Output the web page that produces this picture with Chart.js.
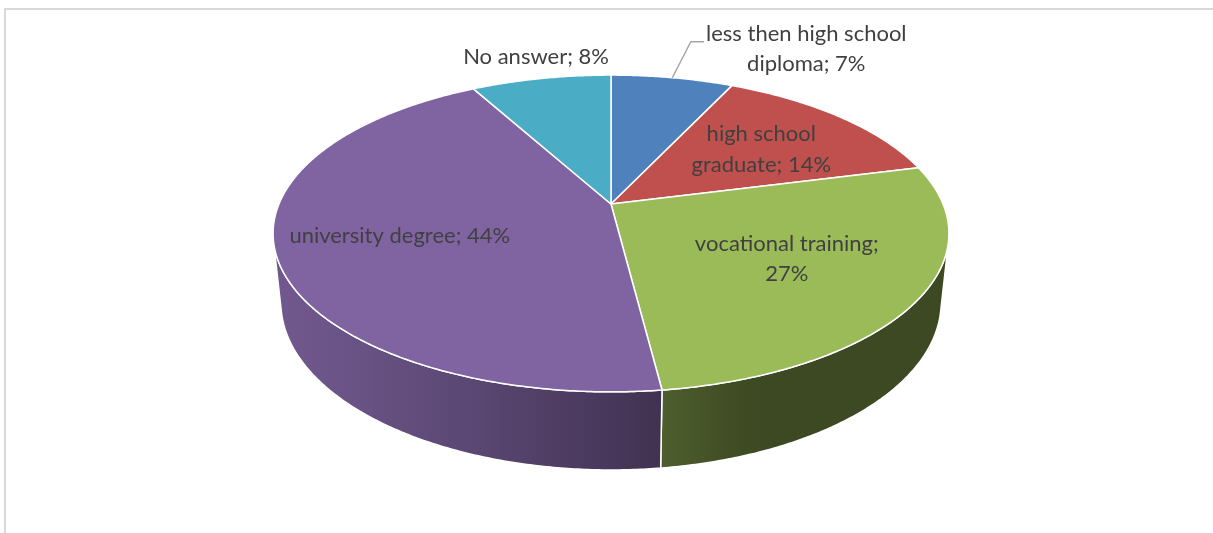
<!DOCTYPE html>
<html>
<head>
<meta charset="utf-8">
<script src="https://cdn.jsdelivr.net/npm/chart.js@4.4.1/dist/chart.umd.min.js"></script>
<style>
  html, body { margin: 0; padding: 0; background: #ffffff; }
  #wrap { position: relative; width: 1213px; height: 533px; overflow: hidden; }
  canvas { display: block; }
</style>
</head>
<body>
<div id="wrap"><canvas id="chart" width="1213" height="533"></canvas></div>
<script>
// Highest level of education reached
const categories = [
  'less then high school diploma',
  'high school graduate',
  'vocational training',
  'university degree',
  'No answer'
];
const shares = [7, 14, 27, 44, 8];
const sliceColors = ['#4F81BD', '#C0504D', '#9BBB59', '#8064A2', '#4BACC6'];

// Perspective of the tilted disc (unit radius), in pixels and ratios
const VIEW = {
  K: 332,        // pixels per unit radius at the disc centre
  p: 0.186,      // depth change per unit towards the back
  sinT: 0.4605,  // sine of the viewing elevation
  cosT: 0.8876,  // cosine of the viewing elevation
  h: 0.2364,     // thickness of the disc
  hD: 0.02282    // depth change caused by the thickness
};

// Where each data label sits, relative to its slice
const labelLayout = [
  { place: 'rim',   dx: 134, dy: -29, wrap: 215, leader: true },
  { place: 'inner', dx: 7,   dy: 0,   wrap: 160 },
  { place: 'inner', dx: 0,   dy: 0,   wrap: 205 },
  { place: 'inner', dx: -15, dy: 3,   wrap: 300 },
  { place: 'rim',   dx: -5,  dy: -22, wrap: 300 }
];
const LABEL_FONT = '22px Lato';
const LINE_H = 30.5;

function project(cx, cy, theta, r, bottom) {
  const X = r * Math.sin(theta);
  const Y = r * Math.cos(theta);
  const z = bottom ? -VIEW.h : 0;
  const den = 1 + VIEW.p * Y + (bottom ? VIEW.hD : 0);
  const yc = Y * VIEW.sinT + z * VIEW.cosT;
  return { x: cx + VIEW.K * X / den, y: cy - VIEW.K * yc / den };
}

function hexToRgb(hex) {
  const n = parseInt(hex.slice(1), 16);
  return [(n >> 16) & 255, (n >> 8) & 255, n & 255];
}
function shade(hex, f) {
  const c = hexToRgb(hex).map(v => Math.round(Math.max(0, Math.min(255, v * f))));
  return `rgb(${c[0]},${c[1]},${c[2]})`;
}
// light comes from the front left
function sideLight(theta) {
  const nx = Math.sin(theta), ny = Math.cos(theta);
  const d = Math.max(0, nx * -0.8 + ny * -0.3);
  return 0.39 + 0.565 * d;
}

function wrapText(ctx, text, maxW) {
  const words = text.split(' ');
  const lines = [];
  let cur = '';
  for (const w of words) {
    const t = cur ? cur + ' ' + w : w;
    if (cur && ctx.measureText(t).width > maxW) { lines.push(cur); cur = w; }
    else cur = t;
  }
  if (cur) lines.push(cur);
  return lines;
}

const pie3d = {
  id: 'pie3d',
  beforeDraw(chart) {
    const ctx = chart.ctx;
    ctx.save();
    ctx.fillStyle = '#ffffff';
    ctx.fillRect(0, 0, chart.width, chart.height);
    ctx.fillStyle = '#d9d9d9';
    ctx.fillRect(4, 8, chart.width - 4, 2);
    ctx.fillRect(4, 8, 2, chart.height - 8);
    ctx.restore();
  },
  beforeDatasetsDraw(chart) {
    const ctx = chart.ctx;
    const meta = chart.getDatasetMeta(0);
    const arcs = meta.data;
    const cx = arcs[0].x, cy = arcs[0].y;
    const STEP = Math.PI / 360;
    const vis = Math.acos(-VIEW.p / (VIEW.cosT * VIEW.cosT));
    const visA = vis, visB = 2 * Math.PI - vis;

    ctx.save();
    ctx.lineJoin = 'round';

    // outer walls of the slices facing the viewer
    arcs.forEach((arc, i) => {
      const t0 = arc.startAngle + Math.PI / 2;
      const t1 = arc.endAngle + Math.PI / 2;
      const a = Math.max(t0, visA), b = Math.min(t1, visB);
      if (b <= a) return;
      const top = [], bot = [];
      for (let t = a; t < b; t += STEP) {
        top.push(project(cx, cy, t, 1, false));
        bot.push(project(cx, cy, t, 1, true));
      }
      top.push(project(cx, cy, b, 1, false));
      bot.push(project(cx, cy, b, 1, true));

      const xs = top.concat(bot).map(pt => pt.x);
      const xL = Math.min(...xs), xR = Math.max(...xs);
      const grad = ctx.createLinearGradient(xL, 0, xR, 0);
      const n = 16;
      for (let k = 0; k <= n; k++) {
        const t = a + (b - a) * k / n;
        const pt = project(cx, cy, t, 1, false);
        const pb = project(cx, cy, t, 1, true);
        const px = (pt.x + pb.x) / 2;
        const pos = Math.max(0, Math.min(1, (px - xL) / (xR - xL || 1)));
        grad.addColorStop(pos, shade(sliceColors[i], sideLight(t)));
      }
      ctx.beginPath();
      ctx.moveTo(top[0].x, top[0].y);
      for (const pt of top) ctx.lineTo(pt.x, pt.y);
      for (let k = bot.length - 1; k >= 0; k--) ctx.lineTo(bot[k].x, bot[k].y);
      ctx.closePath();
      ctx.fillStyle = grad;
      ctx.fill();
      ctx.strokeStyle = '#ffffff';
      ctx.lineWidth = 1.5;
      ctx.stroke();
    });

    // top faces
    arcs.forEach((arc, i) => {
      const t0 = arc.startAngle + Math.PI / 2;
      const t1 = arc.endAngle + Math.PI / 2;
      ctx.beginPath();
      ctx.moveTo(cx, cy);
      for (let t = t0; t < t1; t += STEP) {
        const pt = project(cx, cy, t, 1, false);
        ctx.lineTo(pt.x, pt.y);
      }
      const pe = project(cx, cy, t1, 1, false);
      ctx.lineTo(pe.x, pe.y);
      ctx.closePath();
      ctx.fillStyle = sliceColors[i];
      ctx.fill();
      ctx.strokeStyle = '#ffffff';
      ctx.lineWidth = 1.5;
      ctx.stroke();
    });

    // data labels
    ctx.font = LABEL_FONT;
    ctx.fillStyle = '#404040';
    ctx.textAlign = 'center';
    ctx.textBaseline = 'middle';
    arcs.forEach((arc, i) => {
      const lay = labelLayout[i];
      const mid = (arc.startAngle + arc.endAngle) / 2 + Math.PI / 2;
      const anchor = project(cx, cy, mid, lay.place === 'rim' ? 1 : 0.6, false);
      const lx = anchor.x + lay.dx, ly = anchor.y + lay.dy;
      const lines = wrapText(ctx, `${categories[i]}; ${shares[i]}%`, lay.wrap);
      const y0 = ly - (lines.length - 1) * LINE_H / 2;
      lines.forEach((ln, k) => ctx.fillText(ln, lx, y0 + k * LINE_H));
      if (lay.leader) {
        const w = Math.max(...lines.map(l => ctx.measureText(l).width));
        const left = lx - w / 2 - 2;
        ctx.beginPath();
        ctx.moveTo(anchor.x, anchor.y);
        ctx.lineTo(anchor.x + 18.5, ly - 7);
        ctx.lineTo(left, ly - 7);
        ctx.strokeStyle = '#a6a6a6';
        ctx.lineWidth = 1.5;
        ctx.stroke();
      }
    });

    ctx.restore();
    return false;
  }
};

new Chart(document.getElementById('chart'), {
  type: 'pie',
  data: {
    labels: categories,
    datasets: [{ data: shares, backgroundColor: sliceColors, borderWidth: 0 }]
  },
  options: {
    responsive: false,
    animation: false,
    events: [],
    layout: { padding: { left: 9, top: 0, right: 0, bottom: 125 } },
    plugins: { legend: { display: false }, tooltip: { enabled: false } }
  },
  plugins: [pie3d]
});
</script>
</body>
</html>
